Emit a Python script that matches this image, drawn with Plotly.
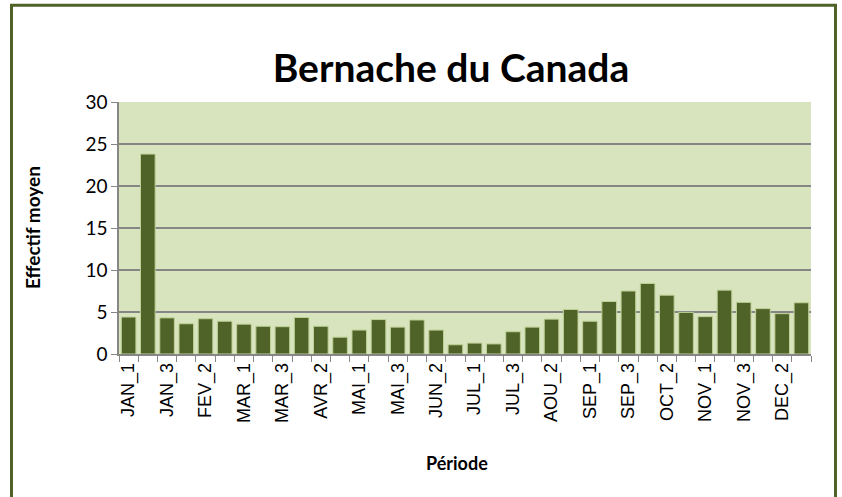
import plotly.graph_objects as go

months = ["JAN", "FEV", "MAR", "AVR", "MAI", "JUN", "JUL", "AOU", "SEP", "OCT", "NOV", "DEC"]
periods = [f"{m}_{k}" for m in months for k in (1, 2, 3)]

values = [
    4.4, 23.8, 4.3,
    3.6, 4.2, 3.9,
    3.55, 3.3, 3.25,
    4.35, 3.3, 2.0,
    2.85, 4.1, 3.2,
    4.05, 2.85, 1.1,
    1.3, 1.2, 2.65,
    3.2, 4.15, 5.3,
    3.9, 6.25, 7.5,
    8.4, 7.0, 4.95,
    4.45, 7.6, 6.15,
    5.4, 4.8, 6.1,
]

title_text = "Bernache du Canada"
y_title = "Effectif moyen"
x_title = "Période"
y_ticks = [0, 5, 10, 15, 20, 25, 30]

# layout geometry (pixels)
W, H = 842, 497
L, R, T, B = 119, 811, 101.6, 354.3
pw, ph = R - L, B - T


def px(x):
    return (x - L) / pw


def py(y):
    return (B - y) / ph


tick_text = [p if i % 2 == 0 else "" for i, p in enumerate(periods)]

fig = go.Figure()
fig.add_trace(go.Bar(
    x=periods,
    y=values,
    marker=dict(color="#4F6228", line=dict(color="#BFD196", width=1)),
))

fig.update_layout(
    width=W, height=H,
    margin=dict(l=L, r=W - R, t=T, b=H - B, pad=0),
    paper_bgcolor="white",
    plot_bgcolor="#D7E4BD",
    bargap=0.24,
    showlegend=False,
    font=dict(family="Lato, Calibri, sans-serif", color="black"),
    title=dict(
        text=f"<b>{title_text}</b>",
        x=px(451), xref="paper", xanchor="center",
        y=1 - 68 / H, yref="container", yanchor="middle",
        font=dict(size=39, family="Lato, sans-serif", color="black"),
    ),
    xaxis=dict(
        type="category",
        tickvals=periods,
        ticktext=tick_text,
        tickangle=-90,
        tickson="boundaries",
        ticks="outside",
        ticklen=6,
        tickcolor="#868686",
        showline=True,
        linecolor="#868686",
        linewidth=1.5,
        showgrid=False,
        tickfont=dict(family="Liberation Sans, Arial, sans-serif", size=18, color="black"),
        range=[-0.5, len(periods) - 0.5],
    ),
    yaxis=dict(
        range=[0, 30],
        tickvals=y_ticks,
        ticks="outside",
        ticklen=6,
        tickcolor="#868686",
        showline=True,
        linecolor="#868686",
        linewidth=1.5,
        showgrid=True,
        gridcolor="#868686",
        gridwidth=1.5,
        zeroline=False,
        tickfont=dict(family="Lato, sans-serif", size=19, color="black"),
    ),
    annotations=[
        dict(
            text=f"<b>{y_title}</b>", textangle=-90,
            x=px(32), y=py(228), xref="paper", yref="paper",
            xanchor="center", yanchor="middle", showarrow=False,
            font=dict(size=19, family="Lato, sans-serif", color="black"),
        ),
        dict(
            text=f"<b>{x_title}</b>",
            x=px(457), y=py(464), xref="paper", yref="paper",
            xanchor="center", yanchor="middle", showarrow=False,
            font=dict(size=18, family="Lato, sans-serif", color="black"),
        ),
    ],
    shapes=[
        dict(
            type="rect", xref="paper", yref="paper",
            x0=px(11.5), x1=px(835.5), y0=py(4.5), y1=py(520),
            line=dict(color="#4F6228", width=3),
            fillcolor="rgba(0,0,0,0)", layer="below",
        )
    ],
)

fig.write_html(
    "out.html",
    config={"displayModeBar": False},
    post_script="document.body.style.margin='0';",
)
